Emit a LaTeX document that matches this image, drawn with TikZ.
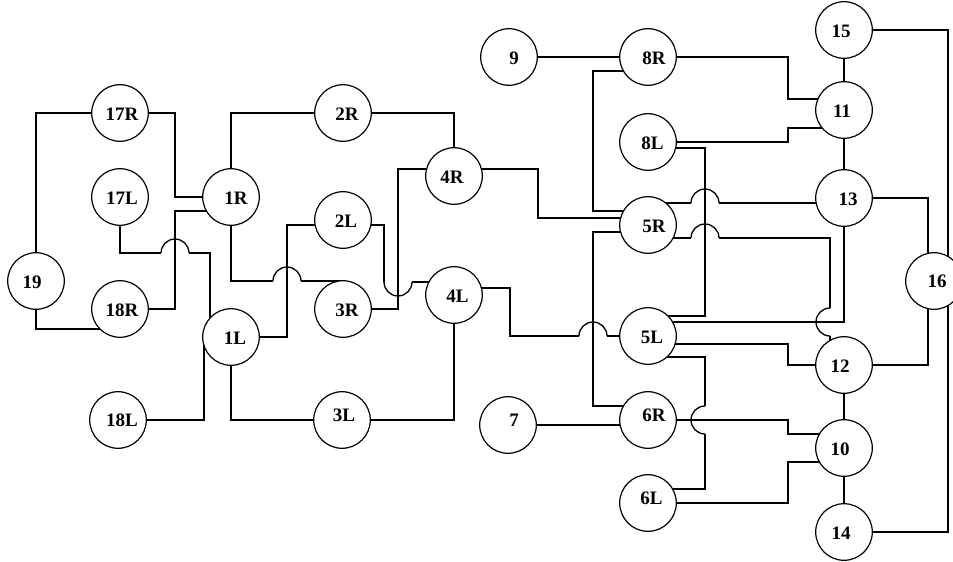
\documentclass[tikz,border=0pt]{standalone}
\usepackage{fontspec}
\setmainfont{Liberation Serif}
\usetikzlibrary{backgrounds}
\newcommand\lbl[3]{\raisebox{\dimexpr #2-6.3pt\relax}[0pt][0pt]{\makebox[0pt]{\hspace*{#1}\hspace*{#1}#3}}}
\begin{document}
\begin{tikzpicture}[x=1pt,y=-1pt,
  nd/.style={circle,draw,fill=white,line width=1.2pt,minimum size=56.6pt,inner sep=0pt,
    font=\bfseries\fontsize{19}{19}\selectfont},
  ln/.style={line width=1.3pt},
  jup/.style={start angle=180,end angle=0,radius=14pt},
  jdown/.style={start angle=180,end angle=360,radius=14pt},
  jleft/.style={start angle=90,end angle=270,radius=14pt}]
\useasboundingbox (0,0) rectangle (953,562);
% left part
\node[nd] (n19)  at (36,281)  {\lbl{-4pt}{-1.5pt}{19}};
\node[nd] (n17R) at (120,113) {\lbl{2pt}{-1.5pt}{17R}};
\node[nd] (n17L) at (120,197) {\lbl{2pt}{-1.5pt}{17L}};
\node[nd] (n18R) at (120,309) {\lbl{2pt}{-1.5pt}{18R}};
\node[nd] (n18L) at (118,420) {\lbl{4pt}{0pt}{18L}};
\node[nd] (n1R)  at (231,197) {\lbl{5pt}{-1.5pt}{1R}};
\node[nd] (n1L)  at (231,337) {\lbl{4pt}{-1.5pt}{1L}};
\node[nd] (n2R)  at (343,113) {\lbl{4pt}{-1.5pt}{2R}};
\node[nd] (n2L)  at (343,220) {\lbl{3pt}{-1.5pt}{2L}};
\node[nd] (n3R)  at (343,309) {\lbl{4pt}{-1.5pt}{3R}};
\node[nd] (n3L)  at (342,420) {\lbl{2pt}{4.5pt}{3L}};
\node[nd] (n4R)  at (454,176) {\lbl{-2pt}{-1.5pt}{4R}};
\node[nd] (n4L)  at (454,295) {\lbl{3.5pt}{-1.5pt}{4L}};
% middle part
\node[nd] (n9)   at (509,57)  {\lbl{5pt}{-1pt}{9}};
\node[nd] (n8R)  at (648,57)  {\lbl{6pt}{-1pt}{8R}};
\node[nd] (n8L)  at (648,142) {\lbl{4.5pt}{-1.5pt}{8L}};
\node[nd] (n5R)  at (648,225) {\lbl{6pt}{-1.5pt}{5R}};
\node[nd] (n5L)  at (648,336) {\lbl{4pt}{-1.5pt}{5L}};
\node[nd] (n6R)  at (648,420) {\lbl{6pt}{4.5pt}{6R}};
\node[nd] (n7)   at (508,425) {\lbl{6pt}{4.5pt}{7}};
\node[nd] (n6L)  at (648,503) {\lbl{3.5pt}{4.5pt}{6L}};
% right part
\node[nd] (n15)  at (844,30)  {\lbl{-3pt}{-1.5pt}{15}};
\node[nd] (n11)  at (844,110) {\lbl{-2pt}{-1.5pt}{11}};
\node[nd] (n13)  at (844,198) {\lbl{4pt}{-1.5pt}{13}};
\node[nd] (n16)  at (934,281) {\lbl{3pt}{0pt}{16}};
\node[nd] (n12)  at (844,365) {\lbl{-4pt}{-1.5pt}{12}};
\node[nd] (n10)  at (844,448) {\lbl{-4pt}{-1.5pt}{10}};
\node[nd] (n14)  at (844,532) {\lbl{-3pt}{-1.5pt}{14}};

\begin{pgfonlayer}{background}
% left cluster
\draw[ln] (n19.center) |- (n17R.center);
\draw[ln] (n19.center) |- ([yshift=-20pt]n18R.center);
\draw[ln] (n17R.center) -| ([xshift=-56pt]n1R.center) -- (n1R.center);
\draw[ln] ([yshift=-14pt]n1R.center) -| ([xshift=55pt]n18R.center) -- (n18R.center);
% 17L - 1L (jump over x=175)
\draw[ln] (n17L.center) -- ++(0,56) -- ++(41,0) coordinate (a1);
\draw[ln] (a1) arc[jup] coordinate (a2);
\draw[ln] (a2) -- ++(21,0) -- ([xshift=-21pt]n1L.center);
\draw[ln] (n18L.center) -| ([xshift=-27pt]n1L.center);
\draw[ln] (n1L.center) |- (n3L.center);
\draw[ln] (n4L.center) |- (n3L.center);
\draw[ln] (n1R.center) |- (n2R.center);
\draw[ln] (n2R.center) -| (n4R.center);
% 1R - 3R (jump over x=287)
\draw[ln] (n1R.center) -- ++(0,84) -- ++(42,0) coordinate (b1);
\draw[ln] (b1) arc[jup] coordinate (b2);
\draw[ln] (b2) -| (n3R.center);
\draw[ln] (n1L.center) -| ([xshift=-56pt,yshift=-5pt]n2L.center) -- ([yshift=-5pt]n2L.center);
\draw[ln] ([yshift=7pt]n4R.center) -| ([xshift=55pt]n3R.center) -- (n3R.center);
% 2L - 4L (dip under x=398)
\draw[ln] ([yshift=-5pt]n2L.center) -- ++(41,0) -- ++(0,57) coordinate (c1);
\draw[ln] (c1) arc[jdown] coordinate (c2);
\draw[ln] (c2) -| (n4L.center);
% middle cluster
% 4L - 5L (jump over x=593)
\draw[ln] ([yshift=7pt]n4L.center) -- ++(56,0) -- ++(0,48) -- ++(69,0) coordinate (d1);
\draw[ln] (d1) arc[jup] coordinate (d2);
\draw[ln] (d2) -- (n5L.center);
\draw[ln] ([yshift=7pt]n4R.center) -| ([xshift=-110pt,yshift=7pt]n5R.center) -- ([yshift=7pt]n5R.center);
\draw[ln] (n9.center) -- (n8R.center);
\draw[ln] ([yshift=-14pt]n8R.center) -| ([xshift=-55pt,yshift=14pt]n5R.center) -- ([yshift=14pt]n5R.center);
\draw[ln] ([yshift=-7pt]n5R.center) -| ([xshift=-55pt,yshift=14pt]n6R.center) -- ([yshift=14pt]n6R.center);
\draw[ln] (n7.center) -- (n7.center -| n6R.center);
\draw[ln] (n8R.center) -| ([xshift=-56pt,yshift=11pt]n11.center) -- ([yshift=11pt]n11.center);
\draw[ln] (n8L.center) -| ([xshift=-56pt,yshift=-18pt]n11.center) -- ([yshift=-18pt]n11.center);
\draw[ln] ([yshift=-6pt]n8L.center) -| ([xshift=57pt,yshift=20pt]n5L.center) -- ([yshift=20pt]n5L.center);
% 5R - 13 (jump over x=705)
\draw[ln] ([yshift=22pt]n5R.center) -- ++(43,0) coordinate (e1);
\draw[ln] (e1) arc[jup] coordinate (e2);
\draw[ln] (e2) -- ([yshift=-5pt]n13.center);
% 5R - 12 (jump over x=705, then around y=322)
\draw[ln] ([yshift=-13pt]n5R.center) -- ++(43,0) coordinate (f1);
\draw[ln] (f1) arc[jup] coordinate (f2);
\draw[ln] (f2) -- ++(111,0) -- ++(0,70) coordinate (f3);
\draw[ln] (f3) arc[jleft] coordinate (f4);
\draw[ln] (f4) -- ([xshift=-14pt]n12.center);
\draw[ln] (n13.center) |- ([yshift=14pt]n5L.center);
\draw[ln] ([yshift=-8pt]n5L.center) -| ([xshift=-56pt]n12.center) -- (n12.center);
% 5L - 6L (around y=420)
\draw[ln] ([yshift=-21pt]n5L.center) -- ++(57,0) -- ++(0,49) coordinate (g1);
\draw[ln] (g1) arc[jleft] coordinate (g2);
\draw[ln] (g2) -- ([xshift=57pt,yshift=14pt]n6L.center) -- ([yshift=14pt]n6L.center);
\draw[ln] (n6R.center) -| ([xshift=-56pt,yshift=14pt]n10.center) -- ([yshift=14pt]n10.center);
\draw[ln] (n6L.center) -| ([xshift=-56pt,yshift=-14pt]n10.center) -- ([yshift=-14pt]n10.center);
% right column
\draw[ln] (n15.center) -- (n11.center);
\draw[ln] (n11.center) -- (n13.center);
\draw[ln] (n12.center) -- (n10.center);
\draw[ln] (n10.center) -- (n14.center);
\draw[ln] (n15.center) -| ([xshift=14pt]n16.center);
\draw[ln] (n14.center) -| ([xshift=14pt]n16.center);
\draw[ln] (n13.center) -| ([xshift=-6pt]n16.center);
\draw[ln] (n12.center) -| ([xshift=-6pt]n16.center);
\end{pgfonlayer}
\end{tikzpicture}
\end{document}
